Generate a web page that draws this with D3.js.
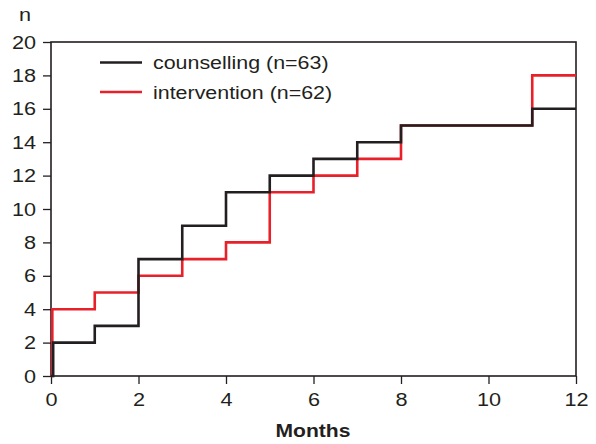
<!DOCTYPE html>
<html><head><meta charset="utf-8">
<script src="https://cdn.jsdelivr.net/npm/d3@7"></script>
<style>body{margin:0;background:#fff}svg{display:block}text{font-family:"Liberation Sans",Arial,sans-serif;fill:#231f20}</style>
</head><body>
<svg id="c" width="596" height="444"></svg>
<script>
const xTicks = [0,2,4,6,8,10,12];
const yTicks = [0,2,4,6,8,10,12,14,16,18,20];
// step points: [month, count] (value holds from this month until next)
const counsellingSteps = [[0,0],[0.05,2],[1,3],[2,7],[3,9],[4,11],[5,12],[6,13],[7,14],[8,15],[11,16],[12,16]];
const interventionSteps = [[0,0],[0.03,4],[1,5],[2,6],[3,7],[4,8],[5,11],[6,12],[7,13],[8,15],[11,18],[12,18]];
const seriesNames = ["counselling (n=63)","intervention (n=62)"];
const seriesColors = ["#231f20","#e8202a"];

const svg = d3.select("#c");
const m = {l:51, r:576, t:42, b:376};
const x = d3.scaleLinear().domain([0,12]).range([m.l,m.r]);
const y = d3.scaleLinear().domain([0,20]).range([m.b,m.t]);
const ink = "#231f20";
const SX = 1.14;
function stretch(sel){
  sel.each(function(){
    const t = d3.select(this);
    const x0 = +t.attr("x") || 0;
    t.attr("transform", `translate(${x0*(1-SX)},0) scale(${SX},1)`);
  });
}

// frame
svg.append("rect").attr("x",m.l).attr("y",m.t).attr("width",m.r-m.l).attr("height",m.b-m.t)
  .attr("fill","none").attr("stroke",ink).attr("stroke-width",1.6);

// axes
const yAx = svg.append("g").attr("transform",`translate(${m.l},0)`)
  .call(d3.axisLeft(y).tickValues(yTicks).tickSize(8).tickPadding(7).tickFormat(d3.format("d")));
const xAx = svg.append("g").attr("transform",`translate(0,${m.b})`)
  .call(d3.axisBottom(x).tickValues(xTicks).tickSize(8).tickPadding(9).tickFormat(d3.format("d")));
[yAx,xAx].forEach(g=>{
  g.select(".domain").remove();
  g.selectAll("line").attr("stroke",ink).attr("stroke-width",1.3);
  g.selectAll("text").style("font-size","19px").style("font-family","'Liberation Sans',Arial,sans-serif").attr("fill",ink).call(stretch);
});

// lines
const line = d3.line().x(d=>x(d[0])).y(d=>y(d[1])).curve(d3.curveStepAfter);
[interventionSteps, counsellingSteps].forEach((s,i)=>{
  svg.append("path").datum(s).attr("d",line).attr("fill","none")
    .attr("stroke", i===0?seriesColors[1]:seriesColors[0]).attr("stroke-width",2.6)
    .attr("stroke-linejoin","miter");
});

// legend
seriesNames.forEach((n,i)=>{
  const yy = 62.5 + i*29.5;
  svg.append("line").attr("x1",100).attr("x2",142).attr("y1",yy).attr("y2",yy)
    .attr("stroke",seriesColors[i]).attr("stroke-width",2.6);
  svg.append("text").attr("x",153).attr("y",yy).attr("dy","0.35em").style("font-size","18.8px").text(n).call(stretch);
});

// axis titles
svg.append("text").attr("x",25).attr("y",21).attr("text-anchor","middle").style("font-size","19px").text("n").call(stretch);
svg.append("text").attr("x",313).attr("y",437).attr("text-anchor","middle").style("font-size","18.5px").style("font-weight","bold").text("Months").call(stretch);
</script>
</body></html>
